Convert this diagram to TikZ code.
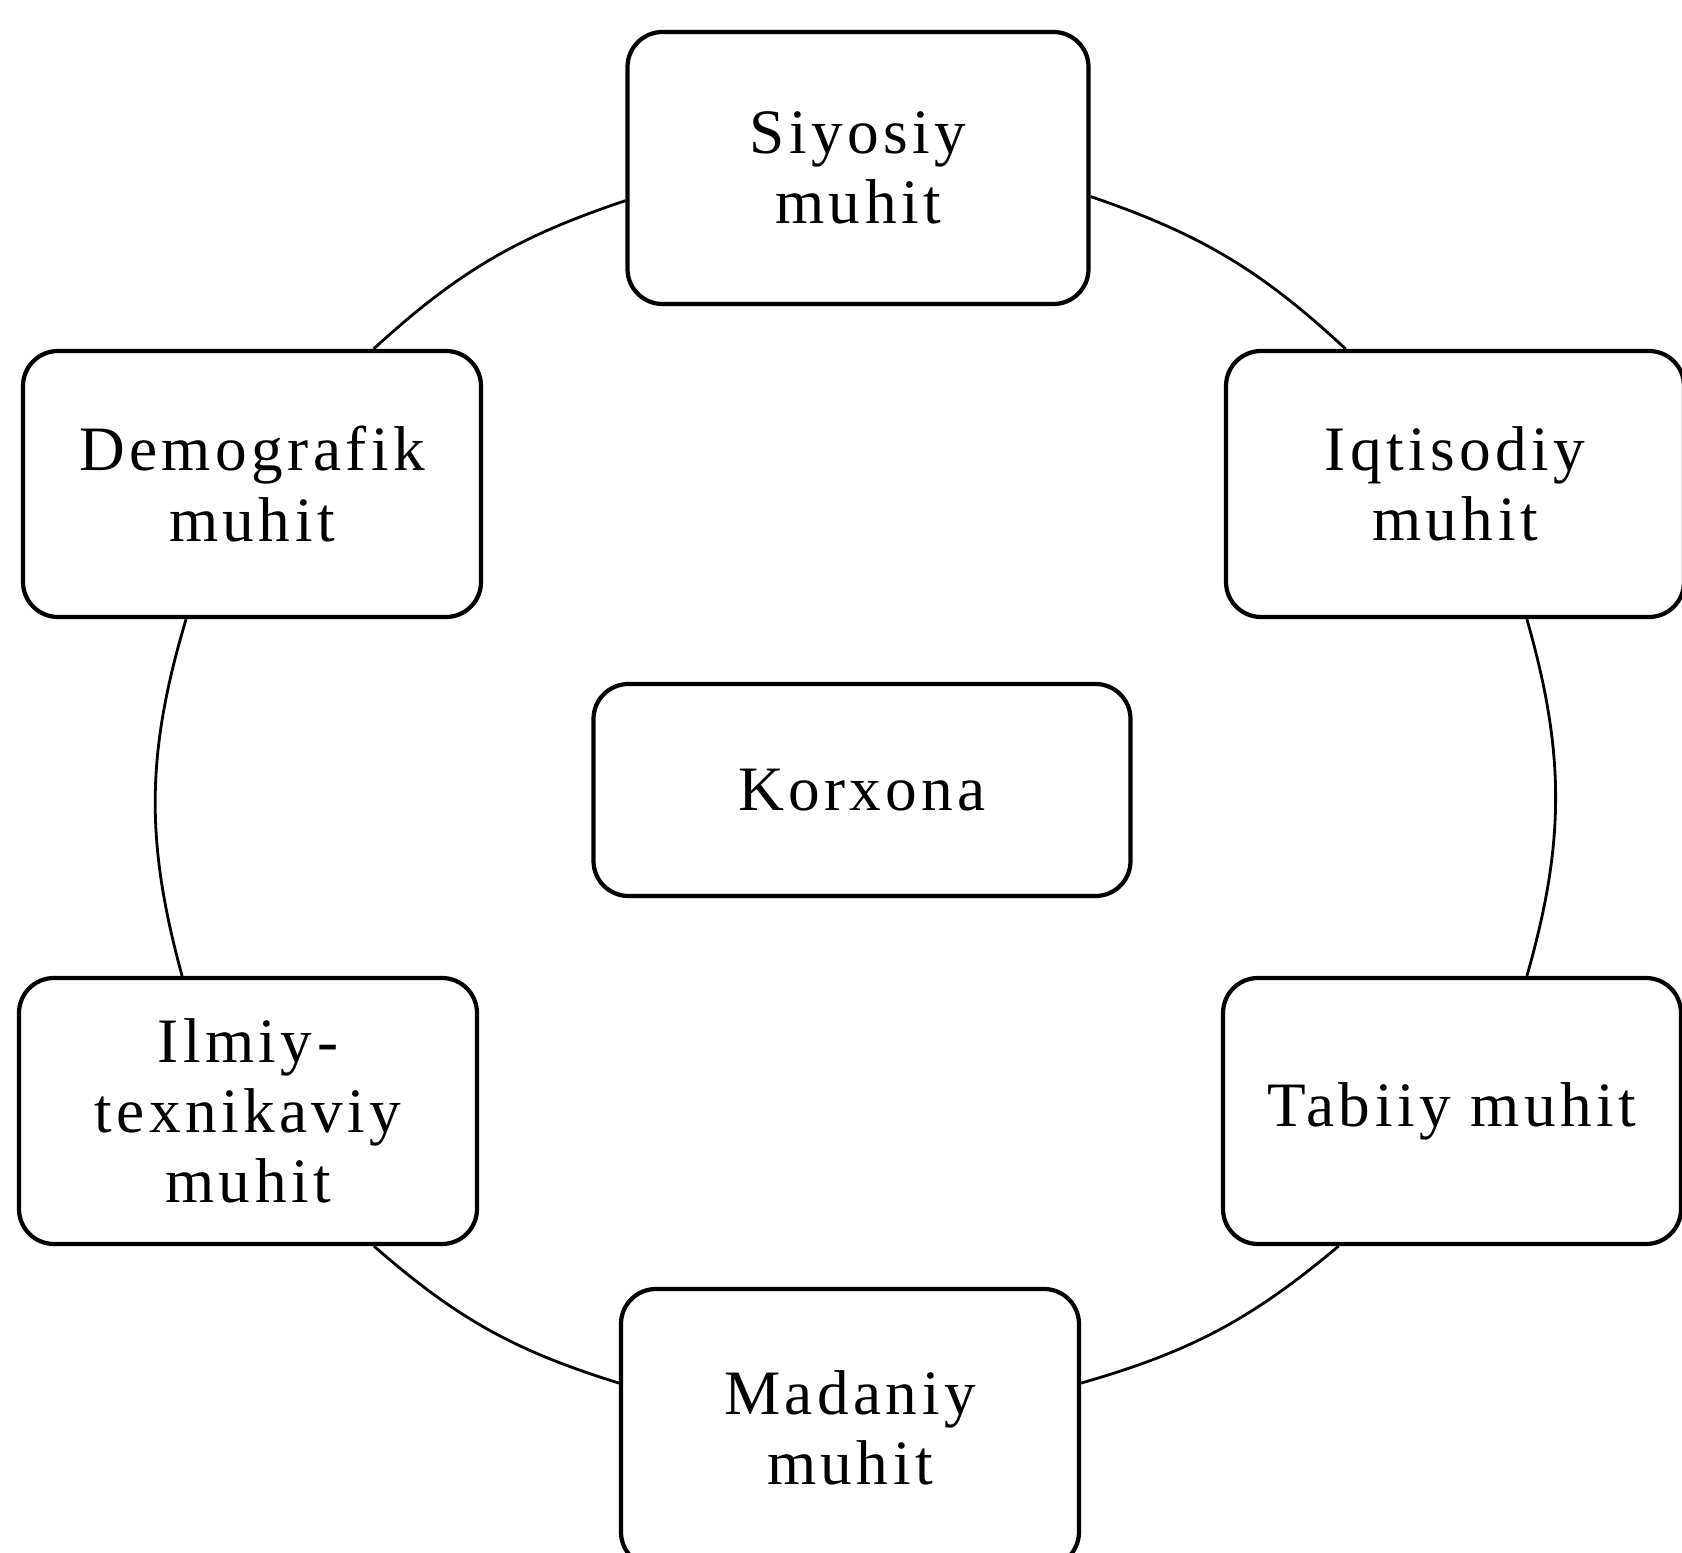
\documentclass[tikz,border=0pt]{standalone}
\usepackage{fontspec}
\setmainfont{Liberation Serif}
\usetikzlibrary{positioning}

\begin{document}
\begin{tikzpicture}[
    muhitbox/.style={draw, line width=1.2pt, rounded corners=0.35cm, align=center,
        minimum width=4.58cm, minimum height=2.66cm, inner sep=2pt,
        font=\fontsize{18}{20}\selectfont\addfontfeature{LetterSpace=7}},
    halqa/.style={line width=0.8pt}
]

% Page frame
\useasboundingbox (0,0) rectangle (16.82,15.52);

% Draw the boxes of the environment
\node [muhitbox, minimum width=4.61cm, minimum height=2.72cm] (siyosiy) at (8.58,13.84) {Siyosiy\\muhit};
\node [muhitbox] (demografik) at (2.52,10.68) {Demografik\\muhit};
\node [muhitbox] (iqtisodiy) at (14.55,10.68) {Iqtisodiy\\muhit};
\node [muhitbox, minimum width=5.37cm, minimum height=2.12cm] (korxona) at (8.62,7.62) {Korxona};
\node [muhitbox] (ilmiy) at (2.48,4.41) {Ilmiy-\\texnikaviy\\muhit};
\node [muhitbox] (tabiiy) at (14.52,4.41) {Tabiiy muhit};
% bottom edge runs off the page
\node [muhitbox, minimum height=2.78cm] (madaniy) at (8.50,1.24) {Madaniy\\muhit};

% Draw the ring that joins them
\draw [halqa] (siyosiy.188) to [bend right=12] (demografik.48);
\draw [halqa] (demografik.-116) to [bend right=16] (ilmiy.116);
\draw [halqa] (ilmiy.-47) to [bend right=12] (madaniy.169);
\draw [halqa] (madaniy.11) to [bend right=12] (tabiiy.-130);
\draw [halqa] (tabiiy.61) to [bend right=16] (iqtisodiy.-62);
\draw [halqa] (iqtisodiy.129) to [bend right=12] (siyosiy.-7);

\end{tikzpicture}
\end{document}
